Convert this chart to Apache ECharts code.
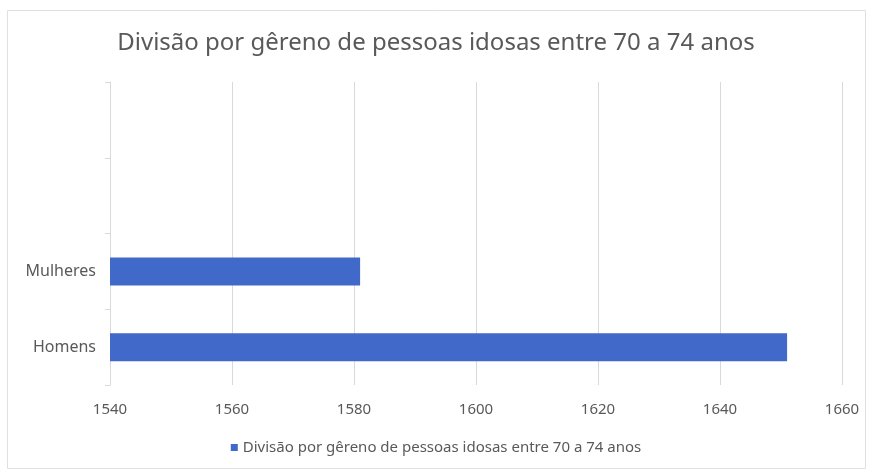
<!DOCTYPE html>
<html>
<head>
<meta charset="utf-8">
<script src="https://cdn.jsdelivr.net/npm/echarts@6/dist/echarts.min.js"></script>
<style>
  html, body { margin: 0; padding: 0; background: #fff; }
  #chart { width: 872px; height: 470px; }
</style>
</head>
<body>
<div id="chart"></div>
<script>
// dados do gráfico
const titleText = 'Divisão por gêreno de pessoas idosas entre 70 a 74 anos'
const seriesName = 'Divisão por gêreno de pessoas idosas entre 70 a 74 anos'
const categories = ['Homens', 'Mulheres', '', '']
const values = [1651, 1581, null, null]
const xTicks = [1540, 1560, 1580, 1600, 1620, 1640, 1660]

const textColor = '#595959'
const font = 'Noto Sans'

const chart = echarts.init(document.getElementById('chart'))

chart.setOption({
  backgroundColor: '#fff',
  animation: false,
  title: {
    text: titleText,
    left: 'center',
    top: 26,
    textStyle: { color: textColor, fontSize: 24, fontWeight: 'normal', fontFamily: font }
  },
  legend: {
    bottom: 10,
    left: 'center',
    icon: 'rect',
    itemWidth: 7,
    itemHeight: 7,
    itemGap: 7,
    textStyle: { color: textColor, fontSize: 15, fontFamily: font }
  },
  grid: { left: 110, right: 30, top: 82, bottom: 85 },
  graphic: [{
    type: 'rect',
    shape: { x: 7.5, y: 10.5, width: 858, height: 458 },
    style: { fill: 'none', stroke: '#e0e0e0', lineWidth: 1 },
    silent: true
  }],
  xAxis: {
    type: 'value',
    min: xTicks[0],
    max: xTicks[xTicks.length - 1],
    interval: 20,
    axisLine: { show: false },
    axisTick: { show: false },
    axisLabel: {
      color: textColor, fontSize: 15, fontFamily: font, margin: 17,
      formatter: v => String(v)
    },
    splitLine: { show: true, lineStyle: { color: '#d9d9d9', width: 1 } }
  },
  yAxis: {
    type: 'category',
    data: categories,
    axisLine: { show: true, lineStyle: { color: '#d9d9d9' } },
    axisTick: { show: true, length: 5, lineStyle: { color: '#d9d9d9' } },
    axisLabel: { color: textColor, fontSize: 16, fontFamily: font, margin: 14 }
  },
  series: [{
    name: seriesName,
    type: 'bar',
    data: values,
    barWidth: 28,
    itemStyle: { color: '#4169c9' }
  }]
})
</script>
</body>
</html>
